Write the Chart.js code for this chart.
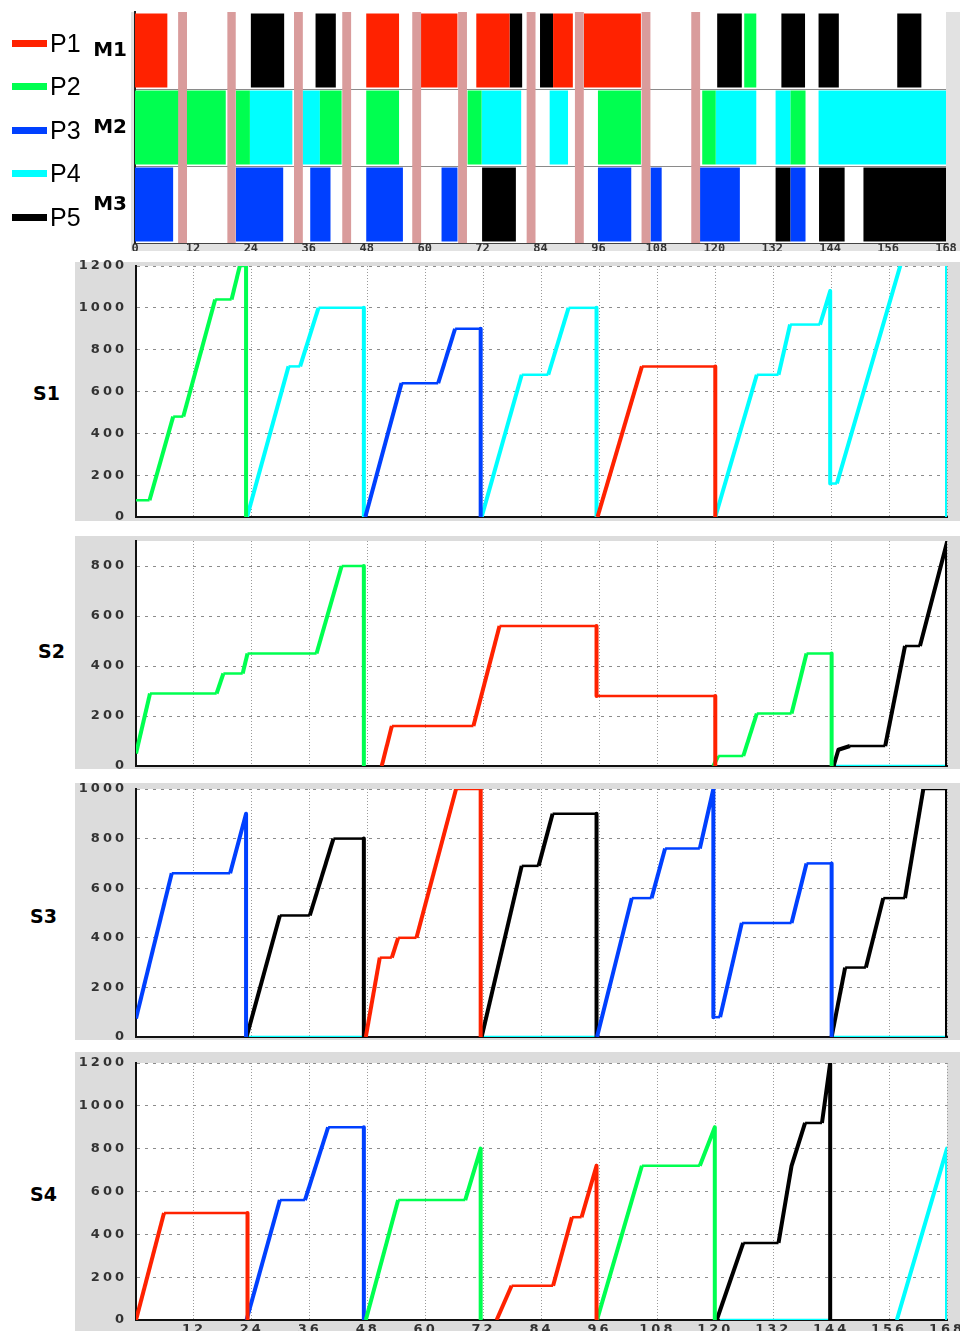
<!DOCTYPE html>
<html>
<head>
<meta charset="utf-8">
<title>Machine schedule and storage levels</title>
<script src="https://cdn.jsdelivr.net/npm/chart.js@4.4.1/dist/chart.umd.min.js"></script>
<style>
  html, body { margin: 0; padding: 0; background: #fff; }
  body { position: relative; width: 960px; height: 1331px; overflow: hidden; font-family: 'Liberation Sans', Arial, sans-serif; }
  .panel { position: absolute; }
  .store { position: absolute; font: bold 19px 'DejaVu Sans', sans-serif; color: #000; line-height: 20px; }
  .key { position: absolute; left: 12px; height: 28px; width: 70px; }
  .key i { position: absolute; left: 0; top: 11px; width: 35px; height: 7px; }
  .key span { position: absolute; left: 38px; top: 0; font-size: 25px; line-height: 28px; color: #000; }
</style>
</head>
<body>
<div class="panel" style="left:0;top:0;width:960px;height:251px"><canvas id="gantt"></canvas></div>
<div id="legend"></div>
<div class="panel" style="left:75px;top:258px;width:885px;height:263px"><canvas id="s1"></canvas></div>
<div class="panel" style="left:75px;top:532px;width:885px;height:237px"><canvas id="s2"></canvas></div>
<div class="panel" style="left:75px;top:779px;width:885px;height:261px"><canvas id="s3"></canvas></div>
<div class="panel" style="left:75px;top:1048px;width:885px;height:297px"><canvas id="s4"></canvas></div>
<div class="store" style="left:33px;top:383px">S1</div>
<div class="store" style="left:38px;top:641px">S2</div>
<div class="store" style="left:30px;top:906px">S3</div>
<div class="store" style="left:30px;top:1184px">S4</div>
<script>
// ---- data ----
const hourTicks = [0, 12, 24, 36, 48, 60, 72, 84, 96, 108, 120, 132, 144, 156, 168];
const machines = ['M1', 'M2', 'M3'];
const products = ['P1', 'P2', 'P3', 'P4', 'P5'];
const productColors = ['#ff2200', '#00ff50', '#0040ff', '#00ffff', '#000000'];

// production runs: [machine, start h, end h]
const runsP1 = [['M1', 0, 6.7], ['M1', 47.9, 54.7], ['M1', 59.2, 66.8], ['M1', 70.7, 77.6], ['M1', 86.6, 90.7], ['M1', 93, 104.8]];
const runsP2 = [['M1', 126.2, 128.7], ['M2', 0, 18.8], ['M2', 20.9, 23.8], ['M2', 38.3, 42.8], ['M2', 47.9, 54.7],
  ['M2', 68.9, 71.8], ['M2', 95.9, 104.8], ['M2', 117.5, 120.3], ['M2', 135.8, 138.9]];
const runsP3 = [['M3', 0, 7.9], ['M3', 20.9, 30.7], ['M3', 36.3, 40.5], ['M3', 47.9, 55.5], ['M3', 63.5, 66.8],
  ['M3', 95.9, 102.8], ['M3', 106.8, 109.1], ['M3', 116.8, 125.3], ['M3', 135.8, 138.9]];
const runsP4 = [['M2', 23.8, 32.6], ['M2', 34.7, 38.3], ['M2', 71.8, 80], ['M2', 85.9, 89.7], ['M2', 120.3, 128.7],
  ['M2', 132.7, 135.8], ['M2', 141.6, 168]];
const runsP5 = [['M1', 24, 30.9], ['M1', 37.4, 41.6], ['M1', 77.6, 80.2], ['M1', 83.9, 86.6], ['M1', 120.6, 125.7],
  ['M1', 133.9, 138.8], ['M1', 141.6, 145.8], ['M1', 157.9, 162.9], ['M3', 71.9, 78.9], ['M3', 132.7, 135.8],
  ['M3', 141.7, 147], ['M3', 150.9, 168]];
// shutdown windows on all machines: [start h, end h]
const shutdowns = [[9, 10.7], [19.2, 20.8], [33, 34.7], [43, 44.7], [57.5, 59.2], [67, 68.7],
  [81.2, 82.9], [91.2, 92.9], [105, 106.7], [115.3, 117]];

// storage levels: [hour, level], null = break in the line
const s1P1 = [[95.6, 0], [104.8, 720], [120, 720], [120, 0]];
const s1P2 = [[0, 80], [2.8, 80], [7.7, 480], [9.8, 480], [16.4, 1040], [19.8, 1040], [21.5, 1200], [22.8, 1200], [22.8, 0]];
const s1P3 = [[47.5, 0], [55, 640], [62.6, 640], [66.1, 900], [71.4, 900], [71.4, 0]];
const s1P4 = [[23, 0], [31.6, 720], [34, 720], [37.8, 1000], [47.2, 1000], [47.2, 0], null,
  [71.6, 0], [79.9, 680], [85.4, 680], [89.6, 1000], [95.4, 1000], [95.4, 0], null,
  [120, 0], [128.6, 680], [133.1, 680], [135.5, 920], [141.7, 920], [143.8, 1080], [143.8, 160], [145.2, 160],
  [168, 1970], [168, 0]];

const s2P1 = [[50.9, 0], [53, 160], [69.9, 160], [75.3, 560], [95.4, 560], [95.4, 280], [120, 280], [120, 0]];
const s2P2 = [[0, 50], [2.9, 290], [16.7, 290], [18.1, 370], [22.1, 370], [23.1, 450], [37.4, 450], [42.6, 800],
  [47.2, 800], [47.2, 0], null,
  [119.6, 0], [120.6, 40], [125.8, 40], [128.6, 210], [135.8, 210], [138.9, 450], [144.1, 450], [144.1, 0]];
const s2P4 = [[145, 0], [168, 0]];
const s2P5 = [[144.5, 0], [145.5, 65], [147.9, 80], [155.2, 80], [159.3, 480], [162.4, 480], [168, 895], [168, 0]];

const s3P1 = [[47.6, 0], [50.5, 320], [53, 320], [54.3, 400], [58.1, 400], [66.3, 1000], [71.4, 1000], [71.4, 0]];
const s3P3 = [[0, 75], [7.4, 660], [19.5, 660], [22.8, 900], [22.8, 0], null,
  [95.5, 0], [102.7, 560], [106.8, 560], [109.6, 760], [116.8, 760], [119.6, 1000], [119.6, 80], [121, 80],
  [125.5, 460], [135.8, 460], [138.9, 700], [144.1, 700], [144.1, 0]];
const s3P4 = [[23, 0], [47, 0], null, [71.6, 0], [95.4, 0], null, [144.5, 0], [168, 0]];
const s3P5 = [[22.9, 0], [29.8, 490], [36, 490], [40.9, 800], [47.2, 800], [47.2, 0], null,
  [71.6, 0], [79.9, 690], [83.4, 690], [86.3, 900], [95.4, 900], [95.4, 0], null,
  [144.1, 0], [146.9, 280], [151.2, 280], [154.8, 560], [159.3, 560], [163.1, 1000], [168, 1000], [168, 0]];

const s4P1 = [[0, 0], [5.8, 500], [23.1, 500], [23.1, 0], null,
  [74.7, 0], [77.8, 160], [86.4, 160], [90.3, 480], [92.3, 480], [95.4, 720], [95.4, 0]];
const s4P2 = [[47.6, 0], [54.3, 560], [68.2, 560], [71.4, 800], [71.4, 0], null,
  [95.5, 0], [104.8, 720], [116.8, 720], [119.9, 900], [119.9, 0]];
const s4P3 = [[22.9, 0], [29.8, 560], [35, 560], [39.8, 900], [47.2, 900], [47.2, 0]];
const s4P4 = [[121, 0], [144, 0], null, [157.6, 0], [168, 800], [168, 0]];
const s4P5 = [[120.3, 0], [125.8, 360], [133.1, 360], [135.8, 720], [138.6, 920], [142.1, 920], [143.8, 1200], [143.8, 0]];

const storages = ['S1', 'S2', 'S3', 'S4'];
const storageMax = [1200, 900, 1000, 1200];
const levelTicks = [
  [0, 200, 400, 600, 800, 1000, 1200],
  [0, 200, 400, 600, 800],
  [0, 200, 400, 600, 800, 1000],
  [0, 200, 400, 600, 800, 1000, 1200]
];
// series per storage, product index -> points (first drawn on top)
const storageSeries = [
  [[0, s1P1], [1, s1P2], [2, s1P3], [3, s1P4]],
  [[0, s2P1], [1, s2P2], [4, s2P5], [3, s2P4]],
  [[0, s3P1], [2, s3P3], [4, s3P5], [3, s3P4]],
  [[0, s4P1], [1, s4P2], [2, s4P3], [4, s4P5], [3, s4P4]]
];

// ---- helpers ----
const GRAY = '#dcdcdc';

const panelBackground = {
  id: 'panelBackground',
  beforeDraw(chart, args, opts) {
    const { ctx, chartArea: a, width, height } = chart;
    ctx.save();
    ctx.fillStyle = opts.color || GRAY;
    ctx.fillRect(opts.left || 0, opts.top || 0, width, height);
    ctx.fillStyle = '#ffffff';
    ctx.fillRect(a.left, a.top, a.right - a.left, a.bottom - a.top);
    ctx.restore();
  }
};

// the original tick digits are drawn wide
const wideDigits = {
  id: 'wideDigits',
  beforeUpdate(chart, args, opts) { chart.ctx.letterSpacing = opts.spacing || '0px'; },
  beforeDraw(chart, args, opts) { chart.ctx.letterSpacing = opts.spacing || '0px'; }
};

function toBars(runs) {
  return runs.map(([m, s, e]) => ({ y: m, x: [s, e] }));
}

function toPoints(rows) {
  return rows.map((r, i) => r === null ? { x: rows[i - 1][0], y: null } : { x: r[0], y: r[1] });
}

// html legend
const legendBox = document.getElementById('legend');
products.forEach((p, i) => {
  const item = document.createElement('div');
  item.className = 'key';
  item.style.top = (29 + i * 43.4) + 'px';
  item.innerHTML = '<i style="background:' + productColors[i] + '"></i><span>' + p + '</span>';
  legendBox.appendChild(item);
});

// ---- gantt ----
const runs = [runsP1, runsP2, runsP3, runsP4, runsP5];
new Chart(document.getElementById('gantt'), {
  type: 'bar',
  data: {
    labels: machines,
    datasets: [
      {
        label: 'shutdown',
        data: shutdowns.flatMap(([s, e]) => machines.map(m => ({ y: m, x: [s, e] }))),
        backgroundColor: '#d99c9c',
        barPercentage: 1,
        categoryPercentage: 1,
        grouped: false
      },
      ...products.map((p, i) => ({
        label: p,
        data: toBars(runs[i]),
        backgroundColor: productColors[i],
        barPercentage: 0.96,
        categoryPercentage: 1,
        grouped: false
      }))
    ]
  },
  options: {
    indexAxis: 'y',
    responsive: true,
    maintainAspectRatio: false,
    animation: false,
    layout: { padding: { top: 12, right: 14, left: 0, bottom: 0 } },
    plugins: {
      legend: { display: false },
      tooltip: { enabled: false },
      panelBackground: { color: '#e2e2e2', left: 131, top: 12 }
    },
    scales: {
      x: {
        type: 'linear',
        min: 0,
        max: 168,
        grid: { display: false, drawTicks: false },
        border: { color: '#444', width: 1 },
        ticks: {
          font: { family: 'DejaVu Sans Mono', size: 12, weight: 'bold', lineHeight: 1 },
          color: '#333',
          padding: 0,
          maxRotation: 0,
          autoSkip: false
        },
        afterBuildTicks(s) { s.ticks = hourTicks.map(v => ({ value: v })); },
        afterFit(s) { s.height = 8; s.paddingLeft = 0; s.paddingRight = 0; }
      },
      y: {
        grid: {
          offset: true,
          drawTicks: false,
          color: ctx => (ctx.index === 0 ? 'rgba(0,0,0,0)' : '#8a8a8a'),
          lineWidth: 1
        },
        border: { color: '#222', width: 2 },
        ticks: { font: { family: 'DejaVu Sans', size: 20, weight: 'bold' }, color: '#000', padding: 8 },
        afterFit(s) { s.width = 135; s.paddingTop = 0; s.paddingBottom = 0; }
      }
    }
  },
  plugins: [panelBackground]
});

// ---- storage charts ----
// canvases start 4px above the gray panel so the top tick label is not cut
const storageGeometry = [
  { padTop: 8, axisH: 4 },
  { padTop: 9, axisH: 3 },
  { padTop: 10, axisH: 3 },
  { padTop: 15, axisH: 25 }
];

storages.forEach((name, k) => {
  const showHours = k === storages.length - 1;
  new Chart(document.getElementById(name.toLowerCase()), {
    type: 'line',
    data: {
      datasets: storageSeries[k].map(([pi, rows]) => ({
        label: products[pi],
        data: toPoints(rows),
        borderColor: productColors[pi],
        backgroundColor: productColors[pi],
        borderWidth: 3,
        pointRadius: 0,
        fill: false,
        tension: 0,
        spanGaps: false,
        borderJoinStyle: 'round',
        borderCapStyle: 'butt',
        segment: {
          // flat stretches are thin, filling/emptying stretches heavier
          borderWidth: c => (c.p0.parsed.y === c.p1.parsed.y ? 2.5 : 4)
        }
      }))
    },
    options: {
      responsive: true,
      maintainAspectRatio: false,
      animation: false,
      layout: { padding: { top: storageGeometry[k].padTop, right: 13, left: 0, bottom: 0 } },
      plugins: {
        legend: { display: false },
        tooltip: { enabled: false },
        panelBackground: { color: GRAY, top: 4 },
        wideDigits: { spacing: '3px' }
      },
      scales: {
        x: {
          type: 'linear',
          min: 0,
          max: 168,
          grid: { color: '#9a9a9a', lineWidth: 1, drawTicks: false },
          border: { color: '#111', width: 2, dash: [1, 2] },
          ticks: {
            display: showHours,
            font: { family: 'DejaVu Sans', size: 13, weight: 'bold', lineHeight: 1.2 },
            color: '#333',
            padding: 2,
            maxRotation: 0,
            autoSkip: false,
            callback: v => (v === 0 ? '' : String(v))
          },
          afterBuildTicks(s) { s.ticks = hourTicks.map(v => ({ value: v })); },
          afterFit(s) { s.height = storageGeometry[k].axisH; s.paddingLeft = 0; s.paddingRight = 0; }
        },
        y: {
          min: 0,
          max: storageMax[k],
          grid: { color: '#8c8c8c', lineWidth: 1, drawTicks: false },
          border: { color: '#111', width: 2, dash: [3, 5] },
          ticks: {
            font: { family: 'DejaVu Sans', size: 13, weight: 'bold' },
            color: '#333',
            padding: 9,
            autoSkip: false,
            callback: v => String(v)
          },
          afterBuildTicks(s) { s.ticks = levelTicks[k].map(v => ({ value: v })); },
          afterFit(s) { s.width = 61; s.paddingTop = 0; s.paddingBottom = 0; }
        }
      }
    },
    plugins: [panelBackground, wideDigits]
  });
});
</script>
</body>
</html>
